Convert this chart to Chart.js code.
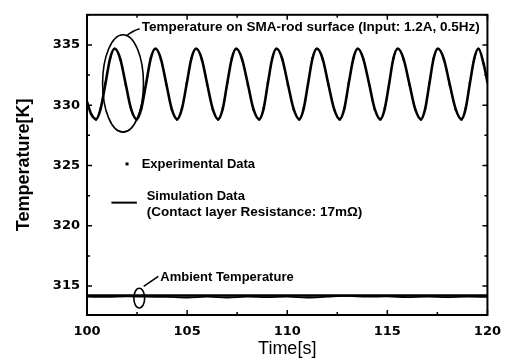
<!DOCTYPE html>
<html>
<head>
<meta charset="utf-8">
<script src="https://cdn.jsdelivr.net/npm/chart.js@4/dist/chart.umd.min.js"></script>
<style>
  html, body { margin: 0; padding: 0; background: #fff; }
  #wrap { width: 510px; height: 360px; }
</style>
</head>
<body>
<div id="wrap"><canvas id="c" width="510" height="360"></canvas></div>
<script>
// ---- data ----
const simTime = [100.0,100.2,100.45,100.68,100.92,101.15,101.38,101.66,101.93,102.2,
  102.48,102.71,102.95,103.18,103.42,103.69,103.96,104.23,104.5,104.74,
  104.98,105.21,105.45,105.73,106.0,106.28,106.55,106.78,107.0,107.23,
  107.45,107.74,108.03,108.31,108.6,108.82,109.03,109.25,109.46,109.75,
  110.03,110.32,110.6,110.82,111.04,111.26,111.48,111.77,112.05,112.34,
  112.62,112.85,113.07,113.3,113.52,113.8,114.09,114.37,114.65,114.87,
  115.09,115.3,115.52,115.81,116.1,116.39,116.68,116.89,117.1,117.31,
  117.52,117.82,118.11,118.41,118.7,118.91,119.12,119.34,119.55,119.8,120.0];
const simTemp = [330.3,329.3,328.85,329.7,331.78,333.85,334.7,333.85,331.78,329.7,
  328.85,329.7,331.78,333.85,334.7,333.85,331.78,329.7,328.85,329.7,
  331.78,333.85,334.7,333.85,331.78,329.7,328.85,329.7,331.78,333.85,
  334.7,333.85,331.78,329.7,328.85,329.7,331.78,333.85,334.7,333.85,
  331.78,329.7,328.85,329.7,331.78,333.85,334.7,333.85,331.78,329.7,
  328.85,329.7,331.78,333.85,334.7,333.85,331.78,329.7,328.85,329.7,
  331.78,333.85,334.7,333.85,331.78,329.7,328.85,329.7,331.78,333.85,
  334.7,333.85,331.78,329.7,328.85,329.7,331.78,333.85,334.7,333.5,331.9];
const expTemp = [330.2,329.25,328.8,329.75,331.85,333.9,334.65,333.8,331.7,329.65,
  328.8,329.75,331.85,333.9,334.65,333.8,331.7,329.65,328.8,329.75,
  331.85,333.9,334.65,333.8,331.7,329.65,328.8,329.75,331.85,333.9,
  334.65,333.8,331.7,329.65,328.8,329.75,331.85,333.9,334.65,333.8,
  331.7,329.65,328.8,329.75,331.85,333.9,334.65,333.8,331.7,329.65,
  328.8,329.75,331.85,333.9,334.65,333.8,331.7,329.65,328.8,329.75,
  331.85,333.9,334.65,333.8,331.7,329.65,328.8,329.75,331.85,333.9,
  334.65,333.8,331.7,329.65,328.8,329.75,331.85,333.9,334.65,333.45,331.85];
const ambTime = [100,101,102,103,104,105,106,107,108,109,110,111,112,113,114,115,116,117,118,119,120];
const ambSimTemp = [314.22,314.22,314.22,314.22,314.22,314.22,314.22,314.22,314.22,314.22,314.22,
  314.22,314.22,314.22,314.22,314.22,314.22,314.22,314.22,314.22,314.22];
const ambExpTemp = [314.12,314.1,314.15,314.12,314.1,314.05,314.12,314.05,314.12,314.08,314.12,
  314.05,314.12,314.18,314.12,314.15,314.08,314.12,314.08,314.12,314.1];
const xTicks = [100,105,110,115,120];
const yTicks = [315,320,325,330,335];

const toXY = (xs, ys) => xs.map((x, i) => ({x: x, y: ys[i]}));

// ---- frame with inward ticks ----
const framePlugin = {
  id: 'frame',
  afterDraw(chart) {
    const {ctx, chartArea: a, scales: {x, y}} = chart;
    ctx.save();
    ctx.strokeStyle = '#000';
    ctx.lineWidth = 2;
    ctx.strokeRect(a.left, a.top, a.right - a.left, a.bottom - a.top);
    ctx.lineWidth = 1.5;
    ctx.beginPath();
    for (let v = 100; v <= 120.001; v += 2.5) {
      const px = x.getPixelForValue(v);
      const len = (Math.abs(v % 5) < 0.01) ? 5 : 3;
      ctx.moveTo(px, a.bottom); ctx.lineTo(px, a.bottom - len);
      ctx.moveTo(px, a.top); ctx.lineTo(px, a.top + len);
    }
    for (let v = 315; v <= 337.5; v += 2.5) {
      const py = y.getPixelForValue(v);
      const len = (Math.abs(v % 5) < 0.01) ? 5 : 3;
      ctx.moveTo(a.left, py); ctx.lineTo(a.left + len, py);
      ctx.moveTo(a.right, py); ctx.lineTo(a.right - len, py);
    }
    ctx.stroke();
    ctx.restore();
  }
};

// ---- annotations (positions in data units) ----
const annPlugin = {
  id: 'ann',
  afterDatasetsDraw(chart) {
    const {ctx, scales: {x, y}} = chart;
    const X = v => x.getPixelForValue(v), Y = v => y.getPixelForValue(v);
    ctx.save();
    ctx.strokeStyle = '#000';
    ctx.fillStyle = '#000';
    ctx.lineWidth = 1.6;
    // big ellipse
    ctx.beginPath();
    ctx.ellipse(X(101.8), Y(331.81), X(101.8 + 1.02) - X(101.8), Y(331.81) - Y(331.81 + 4.04), 0, 0, Math.PI * 2);
    ctx.stroke();
    // callout 1
    ctx.beginPath();
    ctx.moveTo(X(101.95), Y(335.74));
    ctx.quadraticCurveTo(X(102.3), Y(336.2), X(102.63), Y(336.35));
    ctx.stroke();
    // small ellipse
    ctx.beginPath();
    ctx.ellipse(X(102.61), Y(314.0), X(102.61 + 0.27) - X(102.61), Y(314.0) - Y(314.0 + 0.82), 0, 0, Math.PI * 2);
    ctx.stroke();
    // callout 2
    ctx.beginPath();
    ctx.moveTo(X(102.83), Y(314.97));
    ctx.lineTo(X(103.56), Y(315.8));
    ctx.stroke();
    // legend line
    ctx.lineWidth = 2;
    ctx.beginPath();
    ctx.moveTo(X(101.22), Y(321.92));
    ctx.lineTo(X(102.49), Y(321.92));
    ctx.stroke();
    // legend dot
    ctx.fillRect(X(102.0) - 1.5, Y(325.13) - 1.5, 3, 3);
    // texts
    ctx.textBaseline = 'middle';
    ctx.textAlign = 'left';
    ctx.font = 'bold 13.5px "Liberation Sans", Arial, sans-serif';
    ctx.fillText('Temperature on SMA-rod surface (Input: 1.2A, 0.5Hz)', X(102.73), Y(336.5));
    ctx.font = 'bold 13px "Liberation Sans", Arial, sans-serif';
    ctx.fillText('Experimental Data', X(102.73), Y(325.13));
    ctx.fillText('Simulation Data', X(102.98), Y(322.41));
    ctx.font = 'bold 13.5px "Liberation Sans", Arial, sans-serif';
    ctx.fillText('(Contact layer Resistance: 17mΩ)', X(102.98), Y(321.09));
    ctx.font = 'bold 13px "Liberation Sans", Arial, sans-serif';
    ctx.fillText('Ambient Temperature', X(103.66), Y(315.73));
    ctx.restore();
  }
};

new Chart(document.getElementById('c'), {
  type: 'line',
  data: {
    datasets: [
      {label: 'Simulation Data', data: toXY(simTime, simTemp), borderColor: '#000', borderWidth: 2.6,
       pointRadius: 0, cubicInterpolationMode: 'monotone', fill: false},
      {label: 'Experimental Data', data: toXY(simTime, expTemp), showLine: false, pointStyle: 'rect',
       pointRadius: 1.5, backgroundColor: '#000', borderColor: '#000', borderWidth: 0},
      {label: 'Ambient Simulation', data: toXY(ambTime, ambSimTemp), borderColor: '#000', borderWidth: 2.5,
       pointRadius: 0, fill: false},
      {label: 'Ambient Experimental', data: toXY(ambTime, ambExpTemp), borderColor: '#000', borderWidth: 1.8,
       pointRadius: 0, cubicInterpolationMode: 'monotone', fill: false}
    ]
  },
  options: {
    responsive: false,
    animation: false,
    events: [],
    layout: {padding: {top: 13, right: 13, left: 0, bottom: 0}},
    plugins: {legend: {display: false}, tooltip: {enabled: false}},
    scales: {
      x: {
        type: 'linear', min: 100, max: 120,
        afterBuildTicks: s => { s.ticks = xTicks.map(v => ({value: v})); },
        afterFit: s => { s.height = 45; },
        grid: {display: false, drawTicks: false},
        border: {display: false},
        ticks: {padding: 9, color: '#000', font: {family: 'DejaVu Sans', size: 13, weight: 'bold'}},
        title: {display: true, text: 'Time[s]', color: '#000',
                font: {family: 'Liberation Sans', size: 18}, padding: {top: 0, bottom: 0}}
      },
      y: {
        type: 'linear', min: 312.6, max: 337.5,
        afterBuildTicks: s => { s.ticks = yTicks.map(v => ({value: v})); },
        afterFit: s => { s.width = 87; },
        grid: {display: false, drawTicks: false},
        border: {display: false},
        ticks: {padding: 7, color: '#000', font: {family: 'DejaVu Sans', size: 13, weight: 'bold'}},
        title: {display: true, text: 'Temperature[K]', color: '#000',
                font: {family: 'Liberation Sans', size: 18, weight: 'bold'}, padding: {top: 13, bottom: 0}}
      }
    }
  },
  plugins: [framePlugin, annPlugin]
});
</script>
</body>
</html>
